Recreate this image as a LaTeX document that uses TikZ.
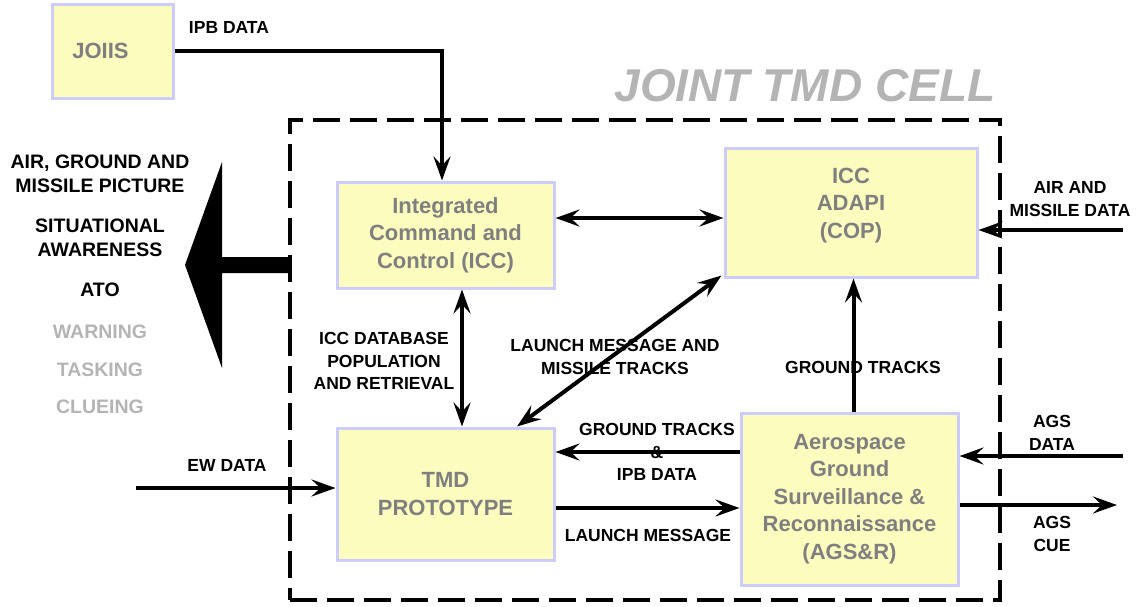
\documentclass[tikz,border=0pt]{standalone}
\usepackage{fontspec}
\setmainfont{Liberation Sans}
\usetikzlibrary{arrows.meta}
\definecolor{boxfill}{HTML}{FCFCBE}
\definecolor{boxline}{HTML}{CCCCFF}
\definecolor{boxtext}{HTML}{7F7F7F}
\definecolor{lighttext}{HTML}{B4B4B4}
\begin{document}
\begin{tikzpicture}[x=1pt,y=-1pt,
  >={Stealth[length=24pt,width=17pt,inset=9pt]},
  box/.style={draw=boxline, fill=boxfill, line width=3pt, text=boxtext,
    font=\fontsize{22}{27.5}\selectfont\bfseries, align=center, inner sep=0pt},
  lbl/.style={font=\fontsize{17.5}{22.5}\selectfont\bfseries, align=center, inner sep=0pt},
  side/.style={font=\fontsize{19.5}{24}\selectfont\bfseries, align=center, inner sep=0pt},
  conn/.style={line width=4pt},
  frame/.style={draw, line width=4.5pt, dash pattern=on 27pt off 10pt, inner sep=0pt}
]
\useasboundingbox (0,0) rectangle (1146,606);

% dashed cell frame
\node[frame, minimum width=710pt, minimum height=480pt] (cell) at (645,360) {};
\node[font=\fontsize{46}{50}\selectfont\bfseries\itshape, text=lighttext, anchor=base, inner sep=0pt]
  (title) at (805,101) {JOINT TMD CELL};

% boxes
\node[box, minimum width=121pt, minimum height=94pt] (joiis) at (112.5,51) {JOIIS\hspace*{24pt}};
\node[box, minimum width=217pt, minimum height=106pt] (icc) at (445.5,235)
  {Integrated\\Command and\\Control (ICC)};
\node[box, minimum width=252pt, minimum height=129pt] (adapi) at (851,212.5)
  {ICC\\ADAPI\\(COP)\\[-9pt]\mbox{}};
\node[box, minimum width=217pt, minimum height=132pt] (tmd) at (445.5,494)
  {TMD\\PROTOTYPE};
\node[box, minimum width=217pt, minimum height=172pt] (ags) at (849.5,499)
  {Aerospace\\Ground\\Surveillance \&\\Reconnaissance\\(AGS\&R)};

% free ends
\coordinate (airin) at (1123,230);
\coordinate (agsin) at (1123,456);
\coordinate (agsout) at (1117,505);
\coordinate (ewin) at (136,488);

% connectors
\draw[conn,->] (joiis.east) -| ([xshift=-3.5pt]icc.north);
\draw[conn,<->] ([yshift=17pt]icc.east) -- ([yshift=17pt]icc.east -| adapi.west);
\draw[conn,<->] ([xshift=16.5pt]icc.south) -- ([xshift=16.5pt]tmd.north);
\draw[conn,<->] ([xshift=71.5pt]tmd.north) -- ([xshift=-2pt,yshift=3pt]adapi.south west);
\draw[conn,->] ([xshift=4pt]ags.north) -- ([xshift=4pt]ags.north |- adapi.south);
\draw[conn,->] ([yshift=47pt]ags.west) -- ([yshift=47pt]ags.west -| tmd.east);
\draw[conn,->] (tmd.east |- 0,508) -- (ags.west |- 0,508);
\draw[conn,->] (airin) -- (airin -| adapi.east);
\draw[conn,->] (agsin) -- (agsin -| ags.east);
\draw[conn,->] (ags.east |- agsout) -- (agsout);
\draw[conn,->] (ewin) -- (ewin -| tmd.west);

% big output arrow
\fill (cell.west |- 0,257) -- (222,257) -- (222,162) -- (185,265) -- (222,368)
  -- (222,273) -- (cell.west |- 0,273) -- cycle;

% labels
\node[lbl] (lipb) at (229,27) {IPB DATA};
\node[lbl] (ldb) at (384,361) {ICC DATABASE\\POPULATION\\AND RETRIEVAL};
\node[lbl] (llm) at (615,357) {LAUNCH MESSAGE AND\\MISSILE TRACKS};
\node[lbl] (lgt) at (863,367) {GROUND TRACKS};
\node[lbl] (lgtipb) at (657,452) {GROUND TRACKS\\\&\\IPB DATA};
\node[lbl] (llaunch) at (648,535) {LAUNCH MESSAGE};
\node[lbl] (lair) at (1070,199) {AIR AND\\MISSILE DATA};
\node[lbl] (lagsd) at (1052,433) {AGS\\DATA};
\node[lbl] (lagsc) at (1052,534) {AGS\\CUE};
\node[lbl] (lew) at (227,465) {EW DATA};

% left side list
\node[side] (s1) at (100,174) {AIR, GROUND AND\\MISSILE PICTURE};
\node[side] (s2) at (100,238) {SITUATIONAL\\AWARENESS};
\node[side] (s3) at (100,290) {ATO};
\node[side, text=lighttext] (s4) at (100,332) {WARNING};
\node[side, text=lighttext] (s5) at (100,370) {TASKING};
\node[side, text=lighttext] (s6) at (100,407) {CLUEING};
\end{tikzpicture}
\end{document}
